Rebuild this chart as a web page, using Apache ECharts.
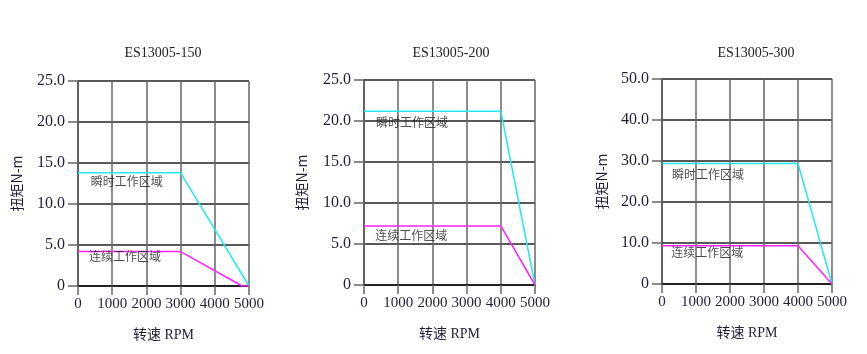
<!DOCTYPE html>
<html>
<head>
<meta charset="utf-8">
<script src="https://cdn.jsdelivr.net/npm/echarts@6/dist/echarts.min.js"></script>
<style>
  html, body { margin: 0; padding: 0; background: #fff; }
  #chart { width: 867px; height: 354px; }
</style>
</head>
<body>
<div id="chart"></div>
<script>
// chart titles
const titles = ['ES13005-150', 'ES13005-200', 'ES13005-300'];
// y axis range per chart
const yMax = [25, 25, 50];
const yStep = [5, 5, 10];

// peak (瞬时) torque curves [rpm, N-m]
const peak150 = [[0, 13.8], [3000, 13.8], [5000, 0]];
const peak200 = [[0, 21.2], [4000, 21.2], [5000, 0]];
const peak300 = [[0, 29.4], [4000, 29.4], [5000, 0]];

// continuous (连续) torque curves [rpm, N-m]
const cont150 = [[0, 4.2], [3000, 4.2], [4800, 0], [5000, 0]];
const cont200 = [[0, 7.2], [4000, 7.2], [5000, 0]];
const cont300 = [[0, 9.3], [4000, 9.3], [5000, 0]];

// region label anchors [rpm, N-m]
const peakLabelAt = [[370, 12.8], [350, 19.8], [295, 26.8]];
const contLabelAt = [[320, 3.6], [330, 6.1], [275, 7.8]];
const peakName = '瞬时工作区域';
const contName = '连续工作区域';

const peaks = [peak150, peak200, peak300];
const conts = [cont150, cont200, cont300];

const serif = "'Liberation Serif', 'DejaVu Serif', 'Noto Sans CJK SC', serif";
const cjk = "'Noto Sans CJK SC', sans-serif";
const txtColor = '#1f1f3a';

const gridBoxes = [
    { left: 78, top: 81, width: 171, height: 205 },
    { left: 364, top: 80, width: 171, height: 205 },
    { left: 662, top: 79, width: 170, height: 205 }
];
const titleX = [158, 446, 751];
const yNameGap = [54, 55, 53];

let opts = {
    animation: false,
    title: [],
    grid: [],
    xAxis: [],
    yAxis: [],
    series: []
};

for (let i = 0; i < 3; i++) {
    opts.title.push({
        text: titles[i],
        left: titleX[i],
        top: 41,
        textAlign: 'center',
        textStyle: { fontFamily: serif, fontSize: 14, fontWeight: 'normal', color: '#222' }
    });
    opts.grid.push(Object.assign({ containLabel: false }, gridBoxes[i]));
    opts.xAxis.push({
        type: 'value',
        gridIndex: i,
        min: 0,
        max: 5000,
        interval: 1000,
        name: '转速 RPM',
        nameLocation: 'middle',
        nameGap: 42,
        nameTextStyle: { fontFamily: serif, fontSize: 14, color: txtColor },
        axisLine: { show: true, lineStyle: { color: '#111', width: 1.5 } },
        axisTick: { show: true, length: 9, lineStyle: { color: '#666', width: 1.5 } },
        axisLabel: {
            fontFamily: serif, fontSize: 15, color: txtColor, margin: 11,
            formatter: function (v) { return String(v); }
        },
        splitLine: { show: true, lineStyle: { color: '#666', width: 1.5 } }
    });
    opts.yAxis.push({
        type: 'value',
        gridIndex: i,
        min: 0,
        max: yMax[i],
        interval: yStep[i],
        name: '扭矩N-m',
        nameLocation: 'middle',
        nameGap: yNameGap[i],
        nameRotate: 90,
        nameTextStyle: { fontFamily: cjk, fontSize: 14, color: txtColor },
        axisLine: { show: true, lineStyle: { color: '#555', width: 1.5 } },
        axisTick: { show: true, length: 10, lineStyle: { color: '#666', width: 1.5 } },
        axisLabel: {
            fontFamily: serif, fontSize: 16, color: txtColor, margin: 13,
            formatter: function (v) { return v === 0 ? '0' : v.toFixed(1); }
        },
        splitLine: { show: true, lineStyle: { color: '#222', width: 1.5 } }
    });
    opts.series.push({
        type: 'line',
        xAxisIndex: i,
        yAxisIndex: i,
        data: peaks[i],
        symbol: 'none',
        lineStyle: { color: '#22e8f0', width: 1.5 },
        z: 5
    });
    opts.series.push({
        type: 'line',
        xAxisIndex: i,
        yAxisIndex: i,
        data: conts[i],
        symbol: 'none',
        lineStyle: { color: '#ff22ff', width: 1.5 },
        z: 5
    });
    opts.series.push({
        type: 'scatter',
        xAxisIndex: i,
        yAxisIndex: i,
        symbolSize: 0,
        silent: true,
        data: [
            { name: peakName, value: peakLabelAt[i] },
            { name: contName, value: contLabelAt[i] }
        ],
        label: {
            show: true,
            position: 'right',
            distance: 0,
            formatter: '{b}',
            fontFamily: cjk,
            fontSize: 12,
            color: '#222'
        },
        z: 6
    });
}

let chart = echarts.init(document.getElementById('chart'), null, { renderer: 'canvas' });
chart.setOption(opts);
</script>
</body>
</html>
